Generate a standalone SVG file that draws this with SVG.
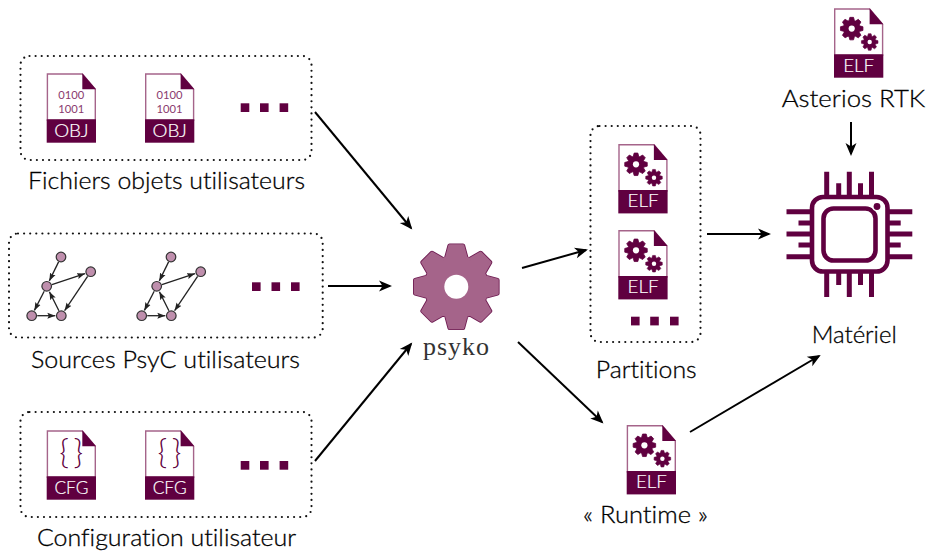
<svg xmlns="http://www.w3.org/2000/svg" xmlns:xlink="http://www.w3.org/1999/xlink" width="930" height="553" viewBox="0 0 930 553">
<style>
text{font-variant-ligatures:none}
.lbl{font-family:"Lato","Liberation Sans",sans-serif;font-weight:300;font-size:24px;fill:#000;stroke:#000;stroke-width:.3}
.mono{font-family:"Liberation Serif",serif;font-size:26px;fill:#333}
.band{font-family:"Lato","Liberation Sans",sans-serif;font-weight:300;font-size:18px;fill:#fff;stroke:#fff;stroke-width:.2;text-anchor:middle}
.bits{font-family:"Lato","Liberation Sans",sans-serif;font-size:12px;fill:#8a3a6e;text-anchor:middle}
.brace{font-family:"Lato","Liberation Sans",sans-serif;font-weight:300;font-size:33px;fill:#600040;text-anchor:middle}
.box{fill:none;stroke:#111;stroke-width:2.2;stroke-linecap:round;stroke-dasharray:0 6.1}
.dot{fill:#600040}
.arr{fill:none;stroke:#000;stroke-width:2;marker-end:url(#head)}
.edge{fill:none;stroke:#222;stroke-width:1.3;marker-end:url(#small)}
.gn{fill:#bf8fad;stroke:#333;stroke-width:1.2}
.pin{stroke:#600040;stroke-width:5;fill:none}
</style>
<defs>
<marker id="head" markerUnits="userSpaceOnUse" markerWidth="16" markerHeight="14" refX="12" refY="7" orient="auto"><path d="M1,1.5 L14,7 L1,12.5 L4.5,7 Z" fill="#000"/></marker>
<marker id="small" markerUnits="userSpaceOnUse" markerWidth="10" markerHeight="8" refX="8" refY="4" orient="auto"><path d="M0,1 L8,4 L0,7 L1.5,4 Z" fill="#222"/></marker>
<path id="gearshape" d="M-10.32,-29.97L-6.95,-42.44L6.95,-42.44L10.32,-29.97L13.9,-28.49L25.09,-34.92L34.92,-25.09L28.49,-13.9L29.97,-10.32L42.44,-6.95L42.44,6.95L29.97,10.32L28.49,13.9L34.92,25.09L25.09,34.92L13.9,28.49L10.32,29.97L6.95,42.44L-6.95,42.44L-10.32,29.97L-13.9,28.49L-25.09,34.92L-34.92,25.09L-28.49,13.9L-29.97,10.32L-42.44,6.95L-42.44,-6.95L-29.97,-10.32L-28.49,-13.9L-34.92,-25.09L-25.09,-34.92L-13.9,-28.49Z"/>
<g id="file">
<path d="M0.7,0.7H35.6L48.6,16V47H0.7Z" fill="#fff" stroke="#a5648a" stroke-width="1.4"/>
<path d="M35.6,0L49.3,16H35.6Z" fill="#600040"/>
<rect x="0" y="46" width="49.3" height="23.4" fill="#600040"/>
</g>
<g id="elf">
<use href="#file"/>
<use href="#gearshape" transform="translate(17.7,20.3) scale(.265)" fill="#600040" stroke="#600040" stroke-width="3" stroke-linejoin="round"/>
<circle cx="17.7" cy="20.3" r="3.1" fill="#fff"/>
<use href="#gearshape" transform="translate(35.7,33.7) scale(.195)" fill="#600040" stroke="#600040" stroke-width="3" stroke-linejoin="round"/>
<circle cx="35.7" cy="33.7" r="2.2" fill="#fff"/>
<text class="band" x="24.7" y="63.3" textLength="31" lengthAdjust="spacingAndGlyphs">ELF</text>
</g>
<g id="obj">
<use href="#file"/>
<text class="bits" x="24.6" y="26" textLength="26" lengthAdjust="spacingAndGlyphs">0100</text>
<text class="bits" x="24.6" y="39.4" textLength="26" lengthAdjust="spacingAndGlyphs">1001</text>
<text class="band" x="24.7" y="63.4" textLength="34.5" lengthAdjust="spacingAndGlyphs">OBJ</text>
</g>
<g id="cfg">
<use href="#file"/>
<text class="brace" x="24.6" y="34" textLength="24" lengthAdjust="spacing">{}</text>
<text class="band" x="24.7" y="63.4" textLength="34" lengthAdjust="spacingAndGlyphs">CFG</text>
</g>
<g id="graph">
<path class="edge" d="M58.6,261.9L49.3,280.9"/>
<path class="edge" d="M51.9,284.6L85,273.6"/>
<path class="edge" d="M87.6,276.3L64.6,310.7"/>
<path class="edge" d="M44.2,291.2L34.4,310.4"/>
<path class="edge" d="M37.2,315.7L55.3,315.7"/>
<path class="edge" d="M58.9,310.8L49.4,291.7"/>
<circle class="gn" cx="61" cy="257" r="4.8"/>
<circle class="gn" cx="90.7" cy="271.7" r="4.8"/>
<circle class="gn" cx="46.7" cy="286.3" r="4.8"/>
<circle class="gn" cx="31.7" cy="315.7" r="4.8"/>
<circle class="gn" cx="61.3" cy="315.7" r="4.8"/>
</g>
</defs>
<rect width="930" height="553" fill="#fff"/>
<g id="connectors">
<path class="arr" d="M315,112L411,228"/>
<path class="arr" d="M328,286H390"/>
<path class="arr" d="M315,461L411,344"/>
<path class="arr" d="M522,268L586,250"/>
<path class="arr" d="M518,342L602,422"/>
<path class="arr" d="M707,234H769"/>
<path class="arr" d="M690,432L819,356"/>
<path class="arr" d="M851,122V154"/>
</g>
<g id="objets">
<rect class="box" x="20.5" y="56" width="291" height="104" rx="9"/>
<use href="#obj" x="46.7" y="73.3"/>
<use href="#obj" x="145" y="73.3"/>
<rect class="dot" x="240.7" y="103.3" width="8.6" height="8.7"/><rect class="dot" x="260" y="103.3" width="8.6" height="8.7"/><rect class="dot" x="279.6" y="103.3" width="8.6" height="8.7"/>
<text class="lbl" x="28" y="189" textLength="277" lengthAdjust="spacingAndGlyphs">Fichiers objets utilisateurs</text>
</g>
<g id="sources">
<rect class="box" x="9" y="233.5" width="313.7" height="104" rx="9"/>
<use href="#graph"/>
<use href="#graph" x="110"/>
<rect class="dot" x="252" y="282.3" width="8.6" height="8.7"/><rect class="dot" x="271.5" y="282.3" width="8.6" height="8.7"/><rect class="dot" x="291" y="282.3" width="8.6" height="8.7"/>
<text class="lbl" x="31" y="368" textLength="269" lengthAdjust="spacingAndGlyphs">Sources PsyC utilisateurs</text>
</g>
<g id="config">
<rect class="box" x="20.5" y="412" width="291" height="105" rx="9"/>
<use href="#cfg" x="46.7" y="430.3"/>
<use href="#cfg" x="145" y="430.3"/>
<rect class="dot" x="240.7" y="461" width="8.6" height="8.7"/><rect class="dot" x="260" y="461" width="8.6" height="8.7"/><rect class="dot" x="279.6" y="461" width="8.6" height="8.7"/>
<text class="lbl" x="37" y="546" textLength="259" lengthAdjust="spacingAndGlyphs">Configuration utilisateur</text>
</g>
<g id="psyko">
<use href="#gearshape" transform="translate(456.3,286.7) scale(.97)" fill="#6f1c52" stroke="#6f1c52" stroke-width="4.4" stroke-linejoin="round"/>
<use href="#gearshape" transform="translate(456.3,286.7) scale(.97)" fill="#a5648a" stroke="#a5648a" stroke-width="2.6" stroke-linejoin="round"/>
<circle cx="456.3" cy="286.7" r="12" fill="#fff"/>
<text class="mono" x="423" y="355" textLength="66">psyko</text>
</g>
<g id="partitions">
<rect class="box" x="590.5" y="126" width="110" height="216" rx="9"/>
<use href="#elf" x="618.3" y="144"/>
<use href="#elf" x="618.3" y="230"/>
<rect class="dot" x="631" y="316.7" width="8.6" height="8.7"/><rect class="dot" x="650.2" y="316.7" width="8.6" height="8.7"/><rect class="dot" x="670" y="316.7" width="8.6" height="8.7"/>
<text class="lbl" x="595.7" y="378" textLength="101" lengthAdjust="spacingAndGlyphs">Partitions</text>
</g>
<g id="runtime">
<use href="#elf" x="626.7" y="425"/>
<text class="lbl" x="583" y="523" textLength="125" lengthAdjust="spacingAndGlyphs">« Runtime »</text>
</g>
<g id="asterios">
<use href="#elf" x="834" y="8.3"/>
<text class="lbl" x="781.7" y="107" textLength="143.5" lengthAdjust="spacingAndGlyphs">Asterios RTK</text>
</g>
<g id="materiel">
<path class="pin" d="M826.7,171.7V297M849.3,171.7V297M871.5,171.7V297M838.7,183.3V285M860.5,183.3V285M786.5,211.7H912.3M786.5,234H912.3M786.5,256.7H912.3M798.5,223H900.7M798.5,245H900.7"/>
<rect x="812" y="197" width="75.5" height="74.5" rx="11" fill="#fff" stroke="#600040" stroke-width="4.6"/>
<rect x="823.5" y="208.5" width="52" height="52" rx="10" fill="#fff" stroke="#600040" stroke-width="4.6"/>
<circle cx="877" cy="206.5" r="5" fill="#fff"/>
<circle cx="877" cy="206.5" r="3.4" fill="#600040"/>
<text class="lbl" x="811.7" y="343" textLength="85" lengthAdjust="spacingAndGlyphs">Matériel</text>
</g>
</svg>
